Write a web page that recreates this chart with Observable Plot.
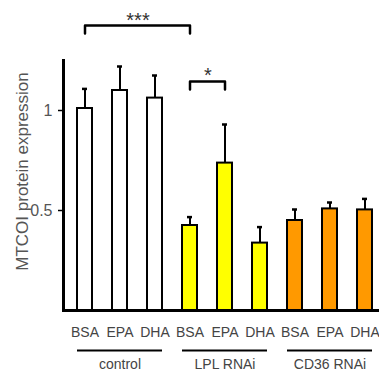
<!DOCTYPE html>
<html><head><meta charset="utf-8">
<script src="https://cdn.jsdelivr.net/npm/d3@7"></script>
<script src="https://cdn.jsdelivr.net/npm/@observablehq/plot@0.6"></script>
<style>html,body{margin:0;padding:0;background:#fff;overflow:hidden;width:379px;height:372px}
#chart svg{max-width:none !important;height:372px !important}</style>
</head><body><div id="chart"></div>
<script>
const groupNames = ["control", "LPL RNAi", "CD36 RNAi"];
const groupColors = ["#ffffff", "#ffff00", "#ff9900"];
const treatments = ["BSA", "EPA", "DHA"];
const means = [1.01, 1.10, 1.062, 0.425, 0.737, 0.337, 0.45, 0.508, 0.503];
const errorTops = [1.108, 1.22, 1.175, 0.467, 0.93, 0.417, 0.505, 0.54, 0.558];
const yTicks = [0.5, 1];
const yLabel = "MTCOI protein expression";
const sigFrom = [0, 3];
const sigTo = [3, 4];
const sigStars = ["***", "*"];
const sigLevel = [1.425, 1.145];
const sigStarLevel = [1.45, 1.175];

const rows = [];
groupNames.forEach((g, gi) => treatments.forEach((t, ti) => {
  const i = gi * 3 + ti;
  rows.push({key: g + "|" + t, group: g, treatment: t, mean: means[i], err: errorTops[i], color: groupColors[gi]});
}));
const keys = rows.map(d => d.key);
const sigPts = [];
const sigs = sigFrom.map((f, i) => ({id: i, from: keys[f], to: keys[sigTo[i]], mid: keys[Math.floor((f + sigTo[i]) / 2)], stars: sigStars[i], level: sigLevel[i], starY: sigStarLevel[i]}));
sigs.forEach(s => {
  sigPts.push({id: s.id, key: s.from, y: s.level - 0.04});
  sigPts.push({id: s.id, key: s.from, y: s.level});
  sigPts.push({id: s.id, key: s.to, y: s.level});
  sigPts.push({id: s.id, key: s.to, y: s.level - 0.04});
});

const narrow = "'Liberation Sans Narrow', 'Arial Narrow', 'Liberation Sans', Arial, sans-serif";
const regular = "'Liberation Sans', Arial, sans-serif";

const chart = Plot.plot({
  width: 400,
  height: 372,
  marginTop: 60,
  marginBottom: 62,
  marginLeft: 63,
  marginRight: 15,
  style: {fontFamily: narrow, background: "#fff", overflow: "visible"},
  x: {domain: keys, paddingInner: 0.5833, paddingOuter: 0.264, align: 0.5},
  y: {domain: [0, 1.25]},
  color: {type: "identity"},
  marks: [
    Plot.ruleX(rows, {x: "key", y1: "mean", y2: "err", stroke: "black", strokeWidth: 2}),
    Plot.tickY(rows, {x: "key", y: "err", stroke: "black", strokeWidth: 2.5, insetLeft: 5, insetRight: 5}),
    Plot.barY(rows, {x: "key", y: "mean", fill: "color", stroke: "black", strokeWidth: 2}),
    Plot.ruleY([0], {stroke: "black", strokeWidth: 3}),
    Plot.frame({anchor: "left", stroke: "black", strokeWidth: 3}),
    Plot.axisY(yTicks, {tickSize: 5, tickPadding: 6, fontSize: 16, fill: "#555", stroke: "black", strokeWidth: 1.5, label: null, tickFormat: d3.format("~g")}),
    Plot.axisX({tickSize: 0, tickPadding: 17, fontSize: 14, fill: "#444", label: null, tickFormat: k => k.split("|")[1]}),
    Plot.ruleY(groupNames, {x1: g => g + "|BSA", x2: g => g + "|DHA", y: -0.2, stroke: "black", strokeWidth: 2}),
    Plot.text(groupNames, {x: g => g + "|EPA", y: -0.2725, text: d => d, fontSize: 14, fill: "#444"}),
    Plot.line(sigPts, {x: "key", y: "y", z: "id", stroke: "black", strokeWidth: 2.5, curve: "linear"}),
    Plot.text(sigs, {x: "mid", y: "starY", text: "stars", dx: 18, fontSize: 20, fill: "#333"}),
    Plot.text([yLabel], {frameAnchor: "left", textAnchor: "middle", y: 0.695, dx: -41, rotate: -90, fontSize: 17, fill: "#555", fontFamily: regular})
  ]
});
document.getElementById("chart").appendChild(chart);
</script>
</body></html>
